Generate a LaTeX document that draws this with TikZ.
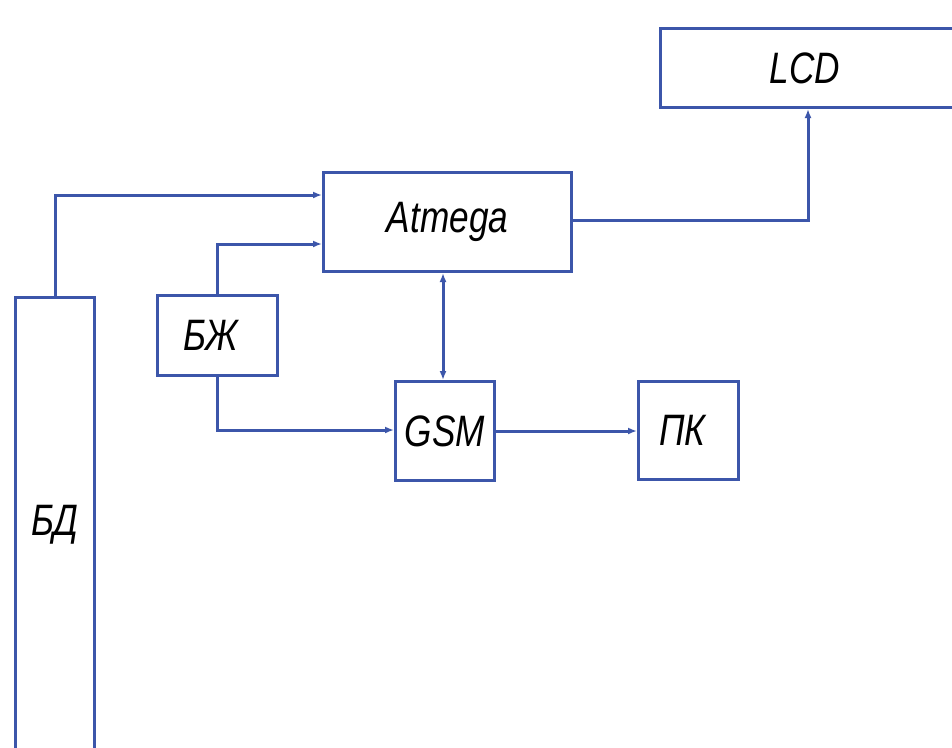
\documentclass[tikz,border=0pt]{standalone}
\usepackage{fontspec}
\newfontfamily\gost[FakeStretch=0.8]{Liberation Sans}
\usetikzlibrary{arrows.meta}
\definecolor{lineblue}{RGB}{60,86,170}
\tikzset{
  blk/.style={draw=lineblue, line width=3pt, rectangle, inner sep=0pt, anchor=north west,
    font=\gost\itshape\fontsize{44}{48}\selectfont, text=black},
  wire/.style={draw=lineblue, line width=3pt},
  conn/.style={wire, -{Latex[length=9pt,width=7pt]}},
  conn2/.style={wire, {Latex[length=9pt,width=7pt]}-{Latex[length=9pt,width=7pt]}}
}
\begin{document}
\begin{tikzpicture}[x=1pt,y=-1pt]
\useasboundingbox (0,0) rectangle (952,747);
\clip (0,0) rectangle (952,747);
\fill[white] (0,0) rectangle (952,747);
\node[blk, minimum width=301pt, minimum height=79pt] (lcd) at (659,27) {\hspace*{-12pt}LCD};
\node[blk, minimum width=248pt, minimum height=99pt] (atm) at (322,171) {Atmega};
\node[blk, minimum width=120pt, minimum height=80pt] (bzh) at (156,294) {\hspace*{-14pt}БЖ};
\node[blk, minimum width=99pt, minimum height=99pt] (gsm) at (394,380) {GSM};
\node[blk, minimum width=100pt, minimum height=98pt] (pk) at (637,380) {\hspace*{-12pt}ПК};
\node[blk, minimum width=79pt, minimum height=470pt] (bd) at (14,296) {\raisebox{24pt}{БД}};
\coordinate (c1) at (55,195);
\coordinate (c2) at (217,244);
\coordinate (c3) at (217,430);
\coordinate (c4) at (808,220);
\draw[conn] (bd.north -| c1) -- (c1) -- (c1 -| atm.west);
\draw[conn] (bzh.north -| c2) -- (c2) -- (c2 -| atm.west);
\draw[conn] (bzh.south -| c3) -- (c3) -- (c3 -| gsm.west);
\draw[conn2] (atm.south -| 443,0) -- (gsm.north -| 443,0);
\draw[conn] (gsm.east |- 0,431) -- (pk.west |- 0,431);
\draw[conn] (atm.east |- c4) -- (c4) -- (lcd.south -| c4);
\end{tikzpicture}
\end{document}
